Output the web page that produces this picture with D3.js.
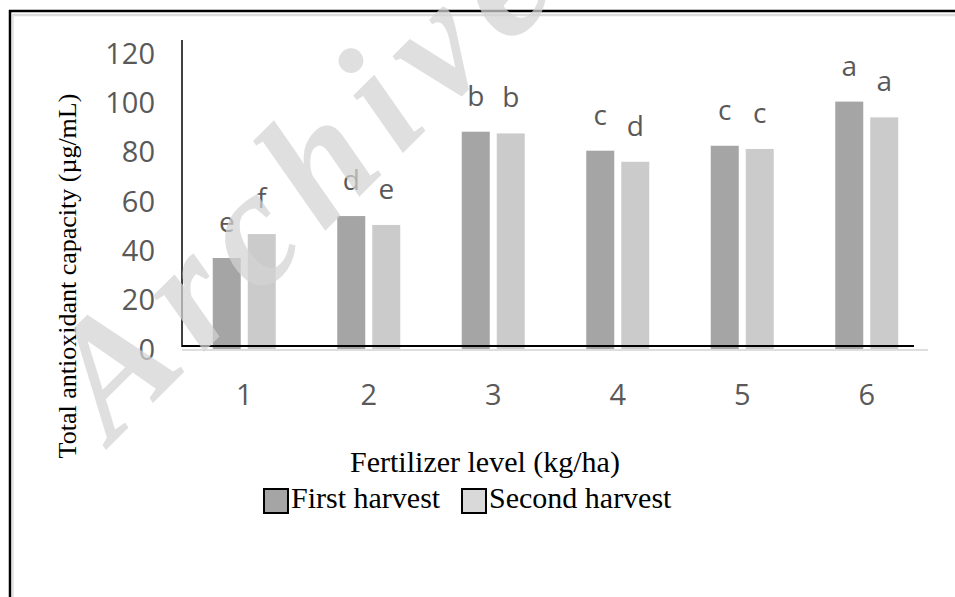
<!DOCTYPE html>
<html>
<head>
<meta charset="utf-8">
<script src="https://cdn.jsdelivr.net/npm/d3@7"></script>
<style>
  html, body { margin: 0; padding: 0; background: #fff; }
  svg { display: block; }
</style>
</head>
<body>
<div id="root"></div>
<script>
// values
const categories = ['1', '2', '3', '4', '5', '6'];
const seriesNames = ['First harvest', 'Second harvest'];
const firstHarvest = [37.3, 54.3, 88.5, 80.8, 82.8, 100.7];
const secondHarvest = [47.0, 50.7, 87.8, 76.3, 81.5, 94.3];
const firstLetters = ['e', 'd', 'b', 'c', 'c', 'a'];
const secondLetters = ['f', 'e', 'b', 'd', 'c', 'a'];
const yTicks = [0, 20, 40, 60, 80, 100, 120];

const W = 955, H = 597;
const colors = ['#a5a5a5', '#cbcbcb'];
const legendColors = ['#a5a5a5', '#d9d9d9'];
const sansFont = '"Open Sans", "Noto Sans", sans-serif';
const serifFont = '"Liberation Serif", "DejaVu Serif", serif';

const svg = d3.select('#root').append('svg')
  .attr('width', W)
  .attr('height', H);

// outer frame (top + left edge with light shadow)
svg.append('line').attr('x1', 12).attr('x2', W).attr('y1', 15).attr('y2', 15)
  .attr('stroke', '#dcdcdc').attr('stroke-width', 2.5);
svg.append('line').attr('x1', 13).attr('x2', 13).attr('y1', 15).attr('y2', H)
  .attr('stroke', '#e6e6e6').attr('stroke-width', 2);
svg.append('line').attr('x1', 9).attr('x2', W).attr('y1', 11).attr('y2', 11)
  .attr('stroke', '#000').attr('stroke-width', 2.5);
svg.append('line').attr('x1', 10).attr('x2', 10).attr('y1', 10).attr('y2', H)
  .attr('stroke', '#000').attr('stroke-width', 2.5);

const x0 = d3.scaleBand().domain(categories).range([182, 929]).padding(0);
const x1 = d3.scaleBand().domain(seriesNames).range([0, 63]).paddingInner(0.2);
const y = d3.scaleLinear().domain([0, 120]).range([350, 54]);

const rows = categories.map((c, i) => ({
  cat: c,
  vals: [
    { s: seriesNames[0], v: firstHarvest[i], l: firstLetters[i] },
    { s: seriesNames[1], v: secondHarvest[i], l: secondLetters[i] }
  ]
}));

// bars
const groups = svg.append('g').selectAll('g').data(rows).join('g')
  .attr('transform', d => `translate(${x0(d.cat) + x0.bandwidth() / 2 - 31.5},0)`);

groups.selectAll('rect').data(d => d.vals).join('rect')
  .attr('x', d => x1(d.s))
  .attr('y', d => y(d.v))
  .attr('width', x1.bandwidth())
  .attr('height', d => y(0) - y(d.v))
  .attr('fill', (d, i) => colors[i]);

groups.selectAll('text').data(d => d.vals).join('text')
  .attr('x', d => x1(d.s) + x1.bandwidth() / 2)
  .attr('y', d => y(d.v) - 26)
  .attr('text-anchor', 'middle')
  .attr('font-family', sansFont)
  .attr('font-size', 28)
  .attr('fill', '#595959')
  .text(d => d.l);

// axes
const yAxis = svg.append('g').attr('transform', 'translate(182,0)')
  .call(d3.axisLeft(y).tickValues(yTicks).tickSize(0).tickPadding(27));
yAxis.select('.domain').remove();
yAxis.selectAll('text')
  .attr('font-family', sansFont).attr('font-size', 29).attr('fill', '#595959');

const xAxis = svg.append('g').attr('transform', 'translate(0,346)')
  .call(d3.axisBottom(x0).tickSize(0).tickPadding(38));
xAxis.select('.domain').remove();
xAxis.selectAll('text')
  .attr('font-family', sansFont).attr('font-size', 29).attr('fill', '#595959');

svg.append('line').attr('x1', 182).attr('x2', 928).attr('y1', 350).attr('y2', 350)
  .attr('stroke', '#dedede').attr('stroke-width', 2);
svg.append('line').attr('x1', 182).attr('x2', 914).attr('y1', 346).attr('y2', 346)
  .attr('stroke', '#000').attr('stroke-width', 2);
svg.append('line').attr('x1', 182).attr('x2', 182).attr('y1', 40).attr('y2', 347)
  .attr('stroke', '#000').attr('stroke-width', 1.5);

// axis titles
svg.append('text')
  .attr('transform', 'translate(76,276) rotate(-90)')
  .attr('text-anchor', 'middle')
  .attr('font-family', serifFont)
  .attr('font-size', 26)
  .attr('fill', '#000')
  .text('Total antioxidant capacity  (µg/mL)');

svg.append('text')
  .attr('x', 485).attr('y', 472)
  .attr('text-anchor', 'middle')
  .attr('font-family', serifFont)
  .attr('font-size', 30)
  .attr('fill', '#000')
  .text('Fertilizer level (kg/ha)');

// legend
const legendX = [264, 462];
const legend = svg.append('g').selectAll('g').data(seriesNames).join('g')
  .attr('transform', (d, i) => `translate(${legendX[i]},489)`);
legend.append('rect')
  .attr('width', 24).attr('height', 24)
  .attr('fill', (d, i) => legendColors[i])
  .attr('stroke', '#000').attr('stroke-width', 2);
legend.append('text')
  .attr('x', 27).attr('y', 19)
  .attr('font-family', serifFont)
  .attr('font-size', 30)
  .attr('fill', '#000')
  .text(d => d);

// watermark
svg.append('text')
  .attr('transform', 'translate(112,444) rotate(-45)')
  .attr('font-family', serifFont)
  .attr('font-size', 165)
  .attr('font-weight', 'bold')
  .attr('font-style', 'italic')
  .attr('letter-spacing', 17)
  .attr('fill', '#d4d4d4')
  .attr('opacity', 0.72)
  .text('Archive');
</script>
</body>
</html>
